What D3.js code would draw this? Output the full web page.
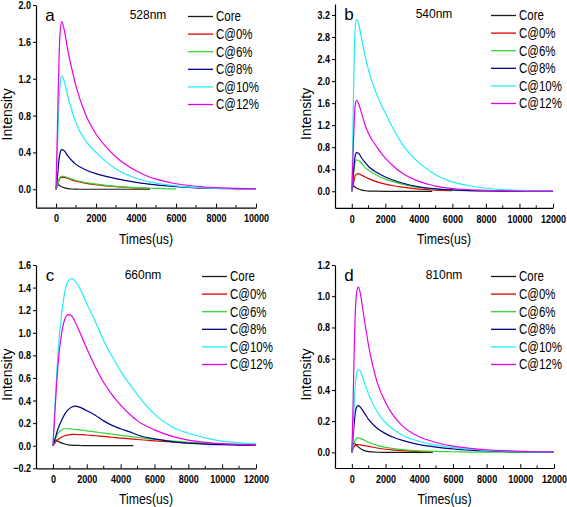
<!DOCTYPE html>
<html><head><meta charset="utf-8">
<script src="https://cdn.jsdelivr.net/npm/d3@7"></script>
<style>
html,body{margin:0;padding:0;background:#fff;}
svg text{font-family:"Liberation Sans",Arial,sans-serif;fill:#000;}
</style></head>
<body><svg id="chart" width="567" height="507"></svg>
<script>
// ---------- DATA ----------
const seriesNames = ["Core", "C@0%", "C@6%", "C@8%", "C@10%", "C@12%"];
const seriesColors = ["#1a1a1a", "#e00000", "#33d633", "#00008c", "#22f0f0", "#e600e6"];

// Panel a, 528nm
const timesA = [0, 50, 100, 150, 200, 280, 400, 600, 800, 1000, 1500, 2000, 2500, 3000, 4000, 4700, 5000, 6000, 7000, 8000, 9000, 10000];
const coreA = [0, 0.04, 0.05, 0.045, 0.038, 0.028, 0.018, 0.008, 0.003, 0.001, 0, 0, 0, 0, 0, 0, null, null, null, null, null, null];
const c0A   = [0, 0.03, 0.065, 0.1, 0.12, 0.13, 0.13, 0.118, 0.1, 0.088, 0.065, 0.05, 0.037, 0.028, 0.015, 0.01, null, null, null, null, null, null];
const c6A   = [0, 0.03, 0.07, 0.11, 0.13, 0.14, 0.14, 0.125, 0.11, 0.095, 0.072, 0.055, 0.042, 0.032, 0.018, 0.011, 0.009, 0.004, null, null, null, null];
const c8A   = [0, 0.08, 0.2, 0.32, 0.39, 0.43, 0.42, 0.36, 0.31, 0.27, 0.21, 0.17, 0.14, 0.115, 0.075, 0.055, 0.047, 0.028, 0.016, 0.009, 0.005, 0.003];
const c10A  = [0, 0.3, 0.65, 0.95, 1.12, 1.23, 1.18, 1.0, 0.85, 0.72, 0.52, 0.4, 0.3, 0.22, 0.12, 0.08, 0.066, 0.036, 0.019, 0.01, 0.006, 0.003];
const c12A  = [0, 0.45, 0.95, 1.4, 1.68, 1.82, 1.74, 1.5, 1.3, 1.12, 0.8, 0.6, 0.46, 0.35, 0.2, 0.13, 0.11, 0.06, 0.033, 0.018, 0.01, 0.005];

// Panel b, 540nm
const timesB = [0, 50, 100, 150, 200, 280, 400, 600, 800, 1000, 1500, 2000, 2500, 3000, 4000, 4800, 5000, 6000, 7000, 8000, 9000, 10000, 11000, 12000];
const coreB = [0, 0.08, 0.1, 0.09, 0.075, 0.06, 0.04, 0.02, 0.01, 0.004, 0.001, 0, 0, 0, 0, 0, null, null, null, null, null, null, null, null];
const c0B   = [0, 0.06, 0.14, 0.22, 0.28, 0.31, 0.32, 0.29, 0.26, 0.23, 0.17, 0.13, 0.1, 0.075, 0.04, 0.025, 0.022, 0.012, null, null, null, null, null, null];
const c6B   = [0, 0.12, 0.28, 0.42, 0.52, 0.57, 0.56, 0.5, 0.43, 0.38, 0.29, 0.22, 0.17, 0.13, 0.07, 0.045, 0.04, 0.022, 0.012, 0.007, 0.004, 0.002, 0.001, 0];
const c8B   = [0, 0.15, 0.35, 0.52, 0.63, 0.7, 0.69, 0.6, 0.52, 0.45, 0.34, 0.26, 0.2, 0.15, 0.08, 0.05, 0.045, 0.024, 0.013, 0.007, 0.004, 0.002, 0.001, 0];
const c10B  = [0, 0.8, 1.7, 2.5, 2.95, 3.12, 3.05, 2.75, 2.45, 2.2, 1.75, 1.42, 1.12, 0.86, 0.52, 0.34, 0.3, 0.17, 0.1, 0.055, 0.03, 0.017, 0.009, 0.005];
const c12B  = [0, 0.4, 0.9, 1.3, 1.55, 1.65, 1.6, 1.4, 1.2, 1.05, 0.8, 0.6, 0.45, 0.33, 0.18, 0.11, 0.095, 0.05, 0.028, 0.015, 0.008, 0.004, 0.002, 0.001];

// Panel c, 660nm
const timesC = [0, 100, 200, 300, 500, 700, 900, 1100, 1300, 1600, 2000, 2500, 3000, 3500, 4000, 4750, 5000, 6000, 7000, 8000, 9000, 10000, 11000, 12000];
const coreC = [0, 0.04, 0.05, 0.04, 0.025, 0.015, 0.008, 0.005, 0.003, 0.002, 0.001, 0, 0, 0, 0, 0, null, null, null, null, null, null, null, null];
const c0C   = [0, 0.02, 0.04, 0.055, 0.075, 0.088, 0.095, 0.1, 0.1, 0.098, 0.095, 0.088, 0.082, 0.075, 0.068, 0.058, 0.055, 0.043, 0.033, 0.025, 0.018, 0.013, 0.009, 0.006];
const c6C   = [0, 0.04, 0.08, 0.11, 0.14, 0.15, 0.15, 0.148, 0.145, 0.14, 0.132, 0.122, 0.112, 0.102, 0.092, 0.078, 0.073, 0.056, 0.042, 0.03, 0.021, 0.015, 0.01, 0.006];
const c8C   = [0, 0.05, 0.1, 0.15, 0.22, 0.28, 0.32, 0.34, 0.35, 0.34, 0.31, 0.27, 0.22, 0.18, 0.15, 0.11, 0.095, 0.06, 0.037, 0.023, 0.014, 0.009, 0.006, 0.004];
const c10C  = [0, 0.3, 0.58, 0.82, 1.15, 1.36, 1.46, 1.48, 1.46, 1.39, 1.26, 1.1, 0.93, 0.79, 0.66, 0.5, 0.45, 0.28, 0.17, 0.11, 0.07, 0.04, 0.025, 0.015];
const c12C  = [0, 0.25, 0.5, 0.72, 0.98, 1.12, 1.16, 1.15, 1.1, 1.0, 0.86, 0.7, 0.56, 0.45, 0.36, 0.25, 0.22, 0.14, 0.085, 0.05, 0.03, 0.018, 0.011, 0.007];

// Panel d, 810nm
const timesD = [0, 50, 100, 150, 200, 280, 380, 500, 700, 1000, 1500, 2000, 2500, 3000, 4000, 4800, 5000, 6000, 7000, 8000, 9000, 10000, 11000, 12000];
const coreD = [0, 0.04, 0.055, 0.06, 0.055, 0.045, 0.035, 0.025, 0.013, 0.005, 0.001, 0, 0, 0, 0, 0, null, null, null, null, null, null, null, null];
const c0D   = [0, 0.015, 0.03, 0.04, 0.046, 0.05, 0.05, 0.048, 0.044, 0.038, 0.028, 0.02, 0.015, 0.011, 0.006, 0.004, null, null, null, null, null, null, null, null];
const c6D   = [0, 0.02, 0.045, 0.065, 0.08, 0.09, 0.095, 0.09, 0.08, 0.065, 0.045, 0.032, 0.024, 0.018, 0.01, 0.007, 0.006, 0.004, 0.002, 0.001, 0.001, 0, 0, 0];
const c8D   = [0, 0.06, 0.13, 0.2, 0.25, 0.29, 0.3, 0.29, 0.26, 0.21, 0.155, 0.12, 0.095, 0.077, 0.05, 0.037, 0.034, 0.022, 0.014, 0.009, 0.006, 0.004, 0.002, 0.001];
const c10D  = [0, 0.1, 0.22, 0.33, 0.42, 0.5, 0.53, 0.52, 0.46, 0.37, 0.26, 0.19, 0.145, 0.11, 0.07, 0.05, 0.046, 0.03, 0.02, 0.013, 0.008, 0.005, 0.003, 0.002];
const c12D  = [0, 0.2, 0.45, 0.7, 0.88, 1.02, 1.06, 1.02, 0.88, 0.68, 0.45, 0.32, 0.23, 0.17, 0.1, 0.07, 0.063, 0.04, 0.026, 0.017, 0.011, 0.007, 0.004, 0.003];

// Axis ticks
const xTicksA = [0, 2000, 4000, 6000, 8000, 10000];
const xTicks12 = [0, 2000, 4000, 6000, 8000, 10000, 12000];
const yTicksA = [0.0, 0.4, 0.8, 1.2, 1.6, 2.0];
const yTicksB = [0.0, 0.4, 0.8, 1.2, 1.6, 2.0, 2.4, 2.8, 3.2];
const yTicksC = [-0.2, 0.0, 0.2, 0.4, 0.6, 0.8, 1.0, 1.2, 1.4, 1.6];
const yTicksD = [0.0, 0.2, 0.4, 0.6, 0.8, 1.0, 1.2];

// ---------- LAYOUT ----------
const panels = [
  {letter:"a", wl:"528nm", times:timesA, series:[coreA,c0A,c6A,c8A,c10A,c12A],
   xDom:[-1000,10000], yDom:[-0.2,2.0], xTicks:xTicksA, yTicks:yTicksA,
   L:36, R:256, T:5, B:207.7, wlX:148, legX:188},
  {letter:"b", wl:"540nm", times:timesB, series:[coreB,c0B,c6B,c8B,c10B,c12B],
   xDom:[-1000,12000], yDom:[-0.3,3.4], xTicks:xTicks12, yTicks:yTicksB,
   L:335, R:553, T:4, B:207.8, wlX:434, legX:491},
  {letter:"c", wl:"660nm", times:timesC, series:[coreC,c0C,c6C,c8C,c10C,c12C],
   xDom:[-1000,12000], yDom:[-0.2,1.6], xTicks:xTicks12, yTicks:yTicksC,
   L:36, R:256, T:265, B:468.3, wlX:143, legX:202},
  {letter:"d", wl:"810nm", times:timesD, series:[coreD,c0D,c6D,c8D,c10D,c12D],
   xDom:[-1000,12000], yDom:[-0.1,1.2], xTicks:xTicks12, yTicks:yTicksD,
   L:335, R:554, T:265, B:468, wlX:444, legX:491}
];

const svg = d3.select("#chart");

panels.forEach(p => {
  const g = svg.append("g");
  const x = d3.scaleLinear().domain(p.xDom).range([p.L, p.R]);
  const y = d3.scaleLinear().domain(p.yDom).range([p.B, p.T]);

  // curves
  const line = d3.line()
    .defined(d => d[1] !== null)
    .x(d => x(d[0])).y(d => y(d[1]))
    .curve(d3.curveMonotoneX);
  p.series.forEach((vals, i) => {
    const pts = p.times.map((t, k) => [t, vals[k] === undefined ? null : vals[k]]);
    g.append("path").datum(pts)
      .attr("d", line)
      .attr("fill", "none")
      .attr("stroke", seriesColors[i])
      .attr("stroke-width", 1.2)
      .attr("stroke-linejoin", "round");
  });

  // x axis (ticks inward)
  const minorX = d3.range(0, p.xDom[1] + 1, 1000).filter(v => !p.xTicks.includes(v));
  const xAxis = d3.axisBottom(x).tickValues(p.xTicks).tickFormat(d3.format("d"))
    .tickSizeInner(-4).tickSizeOuter(0).tickPadding(7);
  const xg = g.append("g").attr("transform", `translate(0,${p.B})`).call(xAxis);
  xg.select(".domain").attr("stroke", "#000").attr("stroke-width", 1.2);
  xg.selectAll(".tick line").attr("stroke", "#000").attr("stroke-width", 1);
  xg.selectAll(".tick text").attr("font-size", 11).attr("font-weight", "bold")
    .attr("dy", "0.71em").classed("narrow", true);
  g.append("g").selectAll("line").data(minorX).join("line")
    .attr("x1", d => x(d)).attr("x2", d => x(d))
    .attr("y1", p.B).attr("y2", p.B - 2.5)
    .attr("stroke", "#000");

  // y axis
  const yAxis = d3.axisLeft(y).tickValues(p.yTicks).tickFormat(d3.format(".1f"))
    .tickSizeInner(3).tickSizeOuter(0).tickPadding(2);
  const yg = g.append("g").attr("transform", `translate(${p.L},0)`).call(yAxis);
  yg.select(".domain").attr("stroke", "#000").attr("stroke-width", 1.2);
  yg.selectAll(".tick line").attr("stroke", "#000");
  yg.selectAll(".tick text").attr("font-size", 11).attr("font-weight", "bold").classed("narrow", true);

  // axis titles
  g.append("text")
    .attr("transform", `translate(${p.L - 24},${(p.T + p.B) / 2 + 8}) rotate(-90)`)
    .attr("text-anchor", "middle").attr("font-size", 14).text("Intensity");
  g.append("text")
    .attr("x", (p.L + p.R) / 2).attr("y", p.B + 36)
    .attr("text-anchor", "middle").attr("font-size", 15).classed("narrow", true).text("Times(us)");

  // panel letter & wavelength
  g.append("text").attr("x", p.L + 14).attr("y", p.T + 15.5)
    .attr("text-anchor", "middle").attr("font-size", 17).text(p.letter);
  g.append("text").attr("x", p.wlX).attr("y", p.T + 14.3)
    .attr("text-anchor", "middle").attr("font-size", 12).text(p.wl);

  // legend
  const leg = g.append("g");
  seriesNames.forEach((name, i) => {
    const cy = p.T + 11.5 + i * 17.6;
    leg.append("line").attr("x1", p.legX).attr("x2", p.legX + 25)
      .attr("y1", cy).attr("y2", cy)
      .attr("stroke", seriesColors[i]).attr("stroke-width", 1.3);
    leg.append("text").attr("x", p.legX + 28).attr("y", cy + 5)
      .attr("font-size", 14).classed("narrow", true).text(name);
  });
});

// Condensed text, as in the reference figure: horizontal squeeze about the anchor x
svg.selectAll("text.narrow").each(function() {
  const ax = +(this.getAttribute("x") || 0);
  d3.select(this).attr("transform", `translate(${ax},0) scale(0.82,1) translate(${-ax},0)`);
});
</script>
</body></html>
